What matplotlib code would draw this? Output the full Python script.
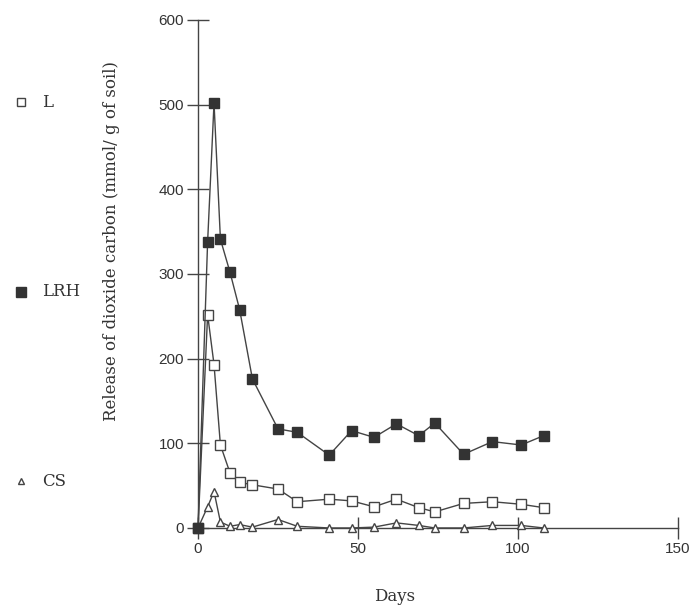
import matplotlib.pyplot as plt
from matplotlib.lines import Line2D

# sampling days and CO2 release for each treatment
days = [0, 3, 5, 7, 10, 13, 17, 25, 31, 41, 48, 55, 62, 69, 74, 83, 92, 101, 108]
lrh = [0, 338, 502, 341, 302, 258, 176, 117, 113, 86, 115, 107, 123, 109, 124, 87, 102, 98, 109]
l_vals = [0, 252, 193, 98, 65, 54, 51, 46, 31, 34, 32, 25, 34, 24, 19, 29, 31, 28, 24]
cs = [0, 25, 43, 7, 2, 4, 1, 10, 2, 0, 0, 1, 6, 3, 0, 0, 3, 3, 0]

series_names = ['L', 'LRH', 'CS']
x_ticks = [0, 50, 100, 150]
y_ticks = [0, 100, 200, 300, 400, 500, 600]

line_col = '#444444'
text_col = '#333333'
serif = ['DejaVu Serif']
sans = ['Liberation Sans', 'DejaVu Sans']

fig = plt.figure(figsize=(6.98, 6.16), dpi=100)
ax = fig.add_axes([0.2837, 0.1429, 0.6876, 0.8247])

ax.plot(days, l_vals, color=line_col, lw=1, marker='s', ms=6.5,
        mfc='white', mec=line_col, mew=1, clip_on=False, zorder=3)
ax.plot(days, cs, color=line_col, lw=1, marker='^', ms=5.5,
        mfc='white', mec=line_col, mew=1, clip_on=False, zorder=4)
ax.plot(days, lrh, color=line_col, lw=1, marker='s', ms=7.5,
        mfc='#333333', mec='#333333', clip_on=False, zorder=5)

ax.set_xlim(0, 150)
ax.set_ylim(0, 600)
ax.set_xticks(x_ticks)
ax.set_yticks(y_ticks)
for side in ['top', 'right']:
    ax.spines[side].set_visible(False)
for side in ['left', 'bottom']:
    ax.spines[side].set_color(line_col)
    ax.spines[side].set_linewidth(1)
ax.tick_params(direction='inout', length=16, width=1, color=line_col,
               labelsize=11, labelcolor=text_col, pad=2)
for lab in ax.get_xticklabels() + ax.get_yticklabels():
    lab.set_family(sans)

fig.text(0.565, 0.031, 'Days', ha='center', va='center', family=serif,
         fontsize=12, color=text_col)
fig.text(0.160, 0.609, 'Release of dioxide carbon (mmol/ g of soil)',
         rotation=90, ha='center', va='center', family=serif, fontsize=12,
         color=text_col)

# legend down the left edge
legend_y = [0.834, 0.526, 0.219]
legend_style = [dict(marker='s', ms=6, mfc='white', mec=line_col),
                dict(marker='s', ms=7, mfc='#333333', mec='#333333'),
                dict(marker='^', ms=5, mfc='white', mec=line_col)]
for name, yy, st in zip(series_names, legend_y, legend_style):
    fig.add_artist(Line2D([0.030], [yy], transform=fig.transFigure,
                          linestyle='none', **st))
    fig.text(0.060, yy, name, ha='left', va='center', family=serif,
             fontsize=12, color=text_col)

fig.savefig('out.png', dpi=100)
